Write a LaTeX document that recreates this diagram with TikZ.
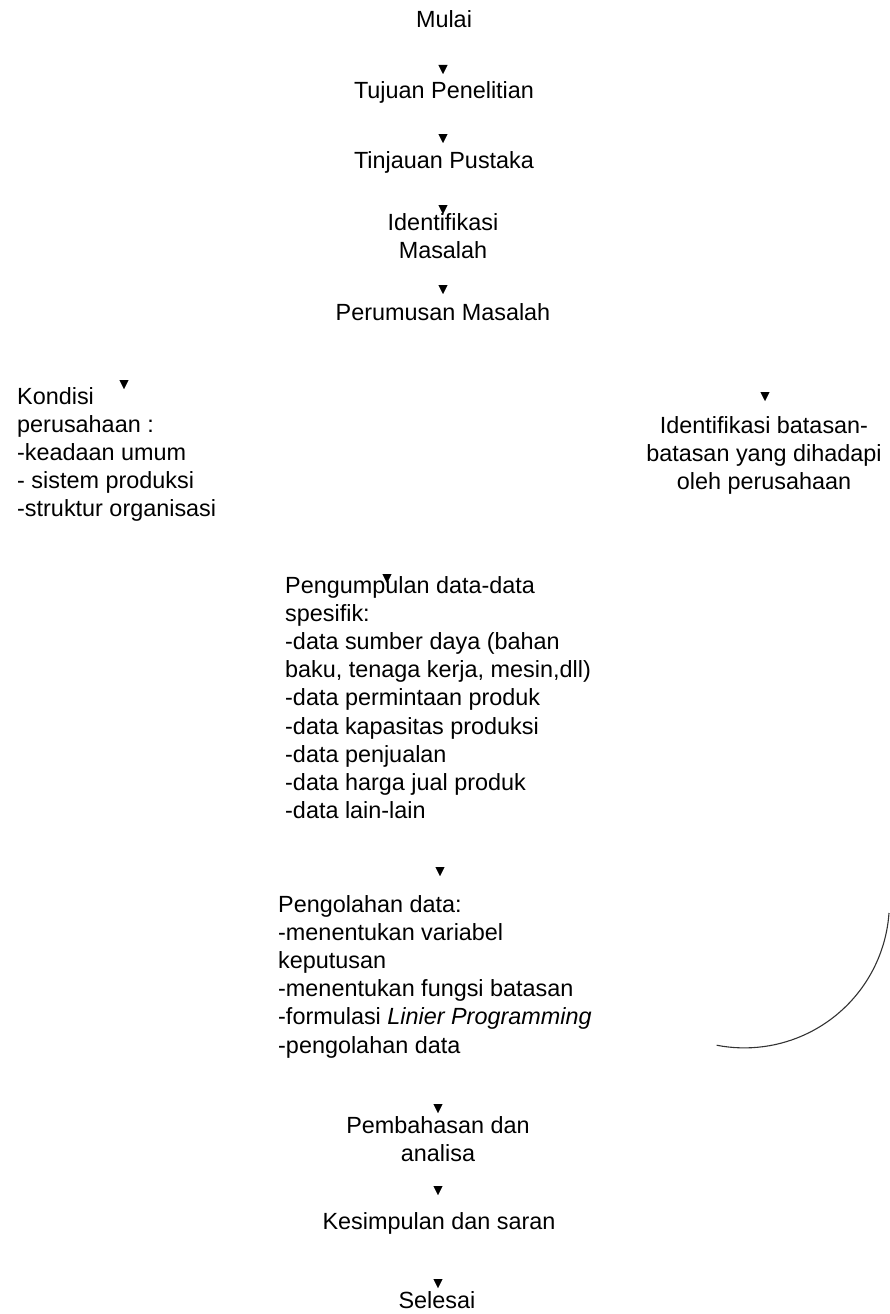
\documentclass[tikz,border=0pt]{standalone}
\usepackage{fontspec}
\setmainfont{Liberation Sans}
\usetikzlibrary{arrows.meta}
\newcommand{\cblock}[1]{\begin{tabular}[t]{@{}c@{}}#1\end{tabular}}
\newcommand{\lblock}[1]{\begin{tabular}[t]{@{}l@{}}#1\end{tabular}}
\tikzset{
  lbl/.style={inner sep=0pt, font=\fontsize{23.4}{28.2}\selectfont},
  head/.style={-{Triangle[width=9pt,length=9pt]}, line width=0.4pt},
  scanarc/.style={draw=black!80, line width=1.1pt},
}
\begin{document}
\begin{tikzpicture}[x=1pt,y=-1pt]
\useasboundingbox (0,0) rectangle (889,1314);
% main column
\node[lbl,anchor=base] (mulai) at (444,28) {Mulai};
\node[lbl,anchor=base] (tujuan) at (444,99) {Tujuan Penelitian};
\node[lbl,anchor=base] (tinjauan) at (444,168) {Tinjauan Pustaka};
\node[lbl,anchor=base] (identifikasi) at (443,230) {\cblock{Identifikasi\\Masalah}};
\node[lbl,anchor=base] (perumusan) at (443,320) {Perumusan Masalah};
\node[lbl,anchor=base west] (kondisi) at (17,404) {\lblock{Kondisi\\perusahaan :\\-keadaan umum\\- sistem produksi\\-struktur organisasi}};
\node[lbl,anchor=base] (batasan) at (764,433) {\cblock{Identifikasi batasan-\\batasan yang dihadapi\\oleh perusahaan}};
\node[lbl,anchor=base west] (pengumpulan) at (285,593) {\lblock{Pengumpulan data-data\\spesifik:\\-data sumber daya (bahan\\baku, tenaga kerja, mesin,dll)\\-data permintaan produk\\-data kapasitas produksi\\-data penjualan\\-data harga jual produk\\-data lain-lain}};
\node[lbl,anchor=base west] (pengolahan) at (278,912) {\lblock{Pengolahan data:\\-menentukan variabel\\keputusan\\-menentukan fungsi batasan\\-formulasi \textit{Linier Programming}\\-pengolahan data}};
\node[lbl,anchor=base] (pembahasan) at (438,1133) {\cblock{Pembahasan dan\\analisa}};
\node[lbl,anchor=base] (kesimpulan) at (439,1229) {Kesimpulan dan saran};
\node[lbl,anchor=base] (selesai) at (437,1308) {Selesai};
% arrow tips
\coordinate (t1) at (443,74);
\coordinate (t2) at (443,143);
\coordinate (t3) at (443,214);
\coordinate (t4) at (443,294);
\coordinate (t5) at (124,389);
\coordinate (t6) at (765,401);
\coordinate (t7) at (387,583);
\coordinate (t8) at (440,876);
\coordinate (t9) at (438,1113);
\coordinate (t10) at (438,1195);
\coordinate (t11) at (438,1288);
\foreach \t in {t1,t2,t3,t4,t5,t6,t7,t8,t9,t10,t11}
  \draw[head] ([yshift=9pt]\t) -- (\t);
% faint arc at the right
\coordinate (arcstart) at (889,913);
\draw[scanarc] (arcstart) arc[start angle=4,end angle=101,radius=145];
\end{tikzpicture}
\end{document}
